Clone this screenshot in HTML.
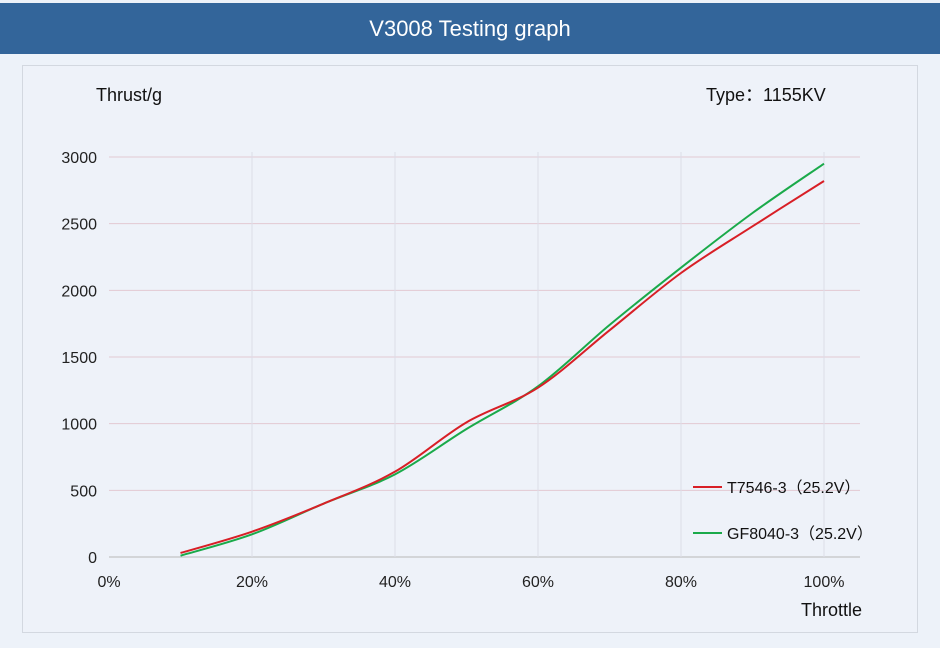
<!DOCTYPE html>
<html><head><meta charset="utf-8"><style>
body{margin:0;width:940px;height:648px;background:#edf2f9;overflow:hidden;font-family:"Liberation Sans","Noto Sans CJK SC",sans-serif}
#hdr{position:absolute;left:0;top:3px;width:940px;height:51px;background:#33659a;color:#fff;font-size:22px;text-align:center;line-height:51px}
#panel{position:absolute;left:22px;top:65px;width:894px;height:566px;border:1px solid #d3d8e0;background:#eef2f9}
</style></head><body>
<div id="hdr">V3008 Testing graph</div>
<div id="panel"></div>
<svg id="chart" width="940" height="648" style="position:absolute;left:0;top:0" font-family="Liberation Sans, Noto Sans CJK SC, sans-serif"></svg>
<script>
const xCats=[10,20,30,40,50,60,70,80,90,100];
const redVals=[30,190,400,640,1010,1270,1700,2130,2480,2820];
const greenVals=[10,170,400,620,960,1280,1740,2170,2580,2950];
const xTicks=[0,20,40,60,80,100];
const yTicks=[0,500,1000,1500,2000,2500,3000];
const svg=document.getElementById('chart');const NS='http://www.w3.org/2000/svg';
const X=v=>109+v*7.15, Y=v=>557-v*400/3000;
function mk(t,a,p){const e=document.createElementNS(NS,t);for(const k in a)e.setAttribute(k,a[k]);(p||svg).appendChild(e);return e;}
yTicks.forEach(t=>{const g=mk('line',{x1:109,x2:860,y1:Y(t),y2:Y(t),stroke:t?'#e3c9d2':'#b8b8b8','stroke-width':1});

const l=mk('text',{x:97,y:Y(t)+6,'text-anchor':'end','font-size':16,fill:'#222'});l.textContent=t;
});
xTicks.forEach(t=>{if(t){const g=mk('line',{x1:X(t),x2:X(t),y1:Y(3000)-5,y2:557,stroke:'#dcdde8','stroke-width':1});
}
const l=mk('text',{x:X(t),y:587,'text-anchor':'middle','font-size':16,fill:'#222'});l.textContent=t+'%';
});
function path(vals){const p=xCats.map((c,i)=>[X(c),Y(vals[i])]);let d='M'+p[0];
for(let i=0;i<p.length-1;i++){const a=p[i-1]||p[i],b=p[i],c=p[i+1],e=p[i+2]||c;
d+=' C'+(b[0]+(c[0]-a[0])/6)+','+(b[1]+(c[1]-a[1])/6)+' '+(c[0]-(e[0]-b[0])/6)+','+(c[1]-(e[1]-b[1])/6)+' '+c[0]+','+c[1];}return d;}
const gl=mk('path',{d:path(greenVals),fill:'none',stroke:'#1aaa4a','stroke-width':2});

const rl=mk('path',{d:path(redVals),fill:'none',stroke:'#d81f26','stroke-width':2});

function txt(x,y,s,name,anchor){const t=mk('text',{x:x,y:y,'font-size':18,fill:'#111','text-anchor':anchor||'start'});t.textContent=s;
return t;}
txt(96,101,'Thrust/g','y-axis-title');
txt(706,101,'Type：1155KV','motor-type-label');
txt(862,616,'Throttle','x-axis-title','end');
[[487,'#d81f26','T7546-3（25.2V）','legend-entry-t7546'],[533,'#1aaa4a','GF8040-3（25.2V）','legend-entry-gf8040']].forEach(r=>{
const l=mk('line',{x1:693,x2:722,y1:r[0],y2:r[0],stroke:r[1],'stroke-width':2});

const t=txt(727,r[0]+6,r[2],r[3]);t.setAttribute('font-size',16);});
</script>
</body></html>
